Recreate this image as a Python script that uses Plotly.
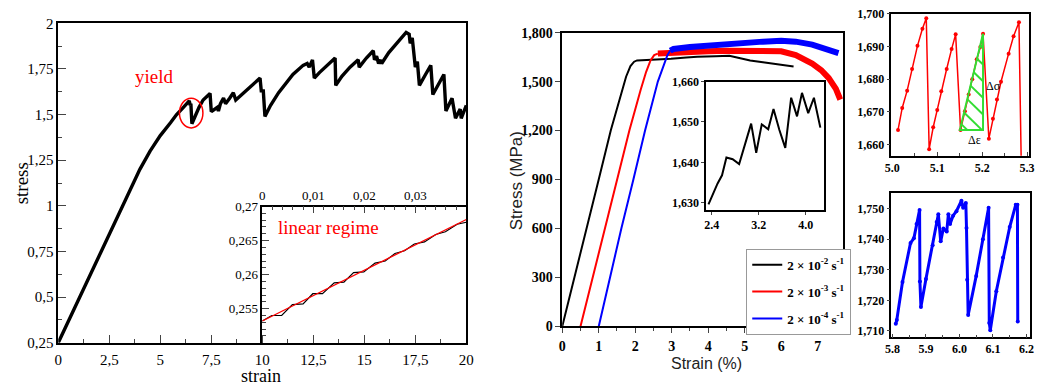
import plotly.graph_objects as go

W, H = 1046, 392

# ---------------- Left panel data (simulation) ----------------
sim_strain = [0, 1, 2, 3, 4, 4.5, 5, 5.5, 5.8, 6.1, 6.3, 6.42, 6.47, 6.5, 6.55, 6.7, 6.9, 7.1, 7.3, 7.44,
              7.5, 7.65, 7.8, 7.85, 7.95, 8.1, 8.2, 8.4, 8.58, 8.7, 9.0, 9.2, 9.4, 9.6, 9.89, 9.95, 10.05,
              10.13, 10.4, 10.8, 11.2, 11.5, 11.8, 12.0, 12.2, 12.3, 12.46, 12.55, 12.8, 13.2, 13.57, 13.6,
              13.9, 14.3, 14.7, 14.75, 15.1, 15.44, 15.5, 15.6, 15.7, 15.8, 15.85, 16.2, 16.6, 17.05, 17.2,
              17.25, 17.35, 17.5, 17.6, 17.7, 18.0, 18.26, 18.36, 18.6, 18.9, 19.0, 19.3, 19.47, 19.7, 19.75, 20.0]
sim_stress = [0.25, 0.49, 0.73, 0.97, 1.2, 1.3, 1.385, 1.455, 1.5, 1.535, 1.56, 1.575, 1.55, 1.56, 1.45, 1.49,
              1.54, 1.58, 1.6, 1.616, 1.516, 1.53, 1.54, 1.52, 1.56, 1.59, 1.56, 1.59, 1.62, 1.58, 1.61, 1.63,
              1.65, 1.67, 1.70, 1.63, 1.63, 1.49, 1.55, 1.62, 1.68, 1.72, 1.75, 1.77, 1.78, 1.76, 1.80, 1.70,
              1.73, 1.77, 1.81, 1.66, 1.71, 1.76, 1.80, 1.76, 1.81, 1.85, 1.80, 1.82, 1.78, 1.80, 1.78, 1.84,
              1.89, 1.95, 1.94, 1.89, 1.92, 1.76, 1.79, 1.66, 1.72, 1.77, 1.61, 1.66, 1.72, 1.52, 1.59, 1.48,
              1.53, 1.48, 1.55]

# inset (linear regime)
lin_strain = [0, 0.00186, 0.0038, 0.0059, 0.008, 0.0099, 0.0118, 0.0141, 0.016, 0.0179, 0.0199, 0.0221,
              0.0241, 0.026, 0.0279, 0.0298, 0.0318, 0.034, 0.0359, 0.0382, 0.04]
lin_stress = [0.2532, 0.254, 0.254, 0.2556, 0.2557, 0.2572, 0.2572, 0.2588, 0.2589, 0.2603, 0.2604, 0.2617,
              0.262, 0.2631, 0.2635, 0.2645, 0.2648, 0.2659, 0.2663, 0.2674, 0.2677]
fit_strain = [0, 0.04]
fit_stress = [0.2532, 0.2681]

left_x_ticks = [0, 2.5, 5, 7.5, 10, 12.5, 15, 17.5, 20]
left_x_text = ["0", "2,5", "5", "7,5", "10", "12,5", "15", "17,5", "20"]
left_y_ticks = [0.25, 0.5, 0.75, 1, 1.25, 1.5, 1.75, 2]
left_y_text = ["0,25", "0,5", "0,75", "1", "1,25", "1,5", "1,75", "2"]
inset_x_ticks = [0, 0.01, 0.02, 0.03]
inset_x_text = ["0", "0,01", "0,02", "0,03"]
inset_y_ticks = [0.255, 0.26, 0.265, 0.27]
inset_y_text = ["0,255", "0,26", "0,265", "0,27"]

# ---------------- Middle panel data (experiment) ----------------
black_strain = [0, 0.34, 0.67, 1.0, 1.33, 1.6, 1.75, 1.87, 1.97, 2.05, 2.5, 2.98, 3.4, 3.7, 4.2, 4.58, 4.85,
                5.15, 5.5, 5.86, 6.1, 6.34]
black_stress = [0, 300, 600, 900, 1200, 1420, 1530, 1595, 1622, 1630, 1634, 1640, 1648, 1653, 1656, 1659, 1645,
                1630, 1618, 1606, 1598, 1592]
red_strain = [0.5, 0.84, 1.17, 1.5, 1.84, 2.15, 2.3, 2.42, 2.52, 2.62, 3.0, 3.5, 4.0, 4.5, 5.0, 5.5, 6.0,
              6.4, 6.85, 7.1, 7.3, 7.5, 7.62]
red_stress = [0, 300, 600, 900, 1200, 1450, 1560, 1630, 1662, 1672, 1678, 1683, 1686, 1689, 1690, 1690, 1686,
              1662, 1610, 1570, 1523, 1455, 1390]
blue_strain = [1.0, 1.3, 1.62, 1.95, 2.27, 2.62, 2.78, 2.88, 2.96, 3.05, 3.5, 4.0, 4.5, 5.0, 5.5, 6.0, 6.4,
               6.85, 7.2, 7.57]
blue_stress = [0, 300, 600, 900, 1200, 1500, 1600, 1660, 1690, 1700, 1712, 1722, 1730, 1738, 1745, 1750, 1745,
               1727, 1705, 1675]
red_knee, blue_knee = 9, 8

zoom_strain = [2.345, 2.50, 2.575, 2.65, 2.756, 2.866, 3.07, 3.156, 3.25, 3.36, 3.45, 3.55, 3.65, 3.75, 3.85,
               3.934, 4.04, 4.137, 4.246]
zoom_stress = [1629.6, 1634.8, 1636.8, 1641.2, 1640.8, 1639.6, 1649.6, 1642.4, 1649.4, 1648.2, 1653.2, 1648,
               1643.6, 1656, 1651.4, 1657.2, 1652.2, 1656, 1648.6]

legend_names = ["2 × 10<sup>-2</sup> s<sup>-1</sup>", "2 × 10<sup>-3</sup> s<sup>-1</sup>",
                "2 × 10<sup>-4</sup> s<sup>-1</sup>"]

# ---------------- Right panels ----------------
saw_red_strain = [5.0127, 5.022, 5.033, 5.044, 5.056, 5.067, 5.0756, 5.082, 5.091, 5.1, 5.109, 5.121, 5.132,
                  5.141, 5.152, 5.1616, 5.17, 5.178, 5.188, 5.196, 5.202, 5.215, 5.224, 5.233, 5.242, 5.259,
                  5.27, 5.282, 5.287]
saw_red_stress = [1664.5, 1671.2, 1676.5, 1683.1, 1690.2, 1695.4, 1698.6, 1658.6, 1665.3, 1670.6, 1676.3,
                  1683.1, 1689.2, 1693.7, 1664.5, 1670.2, 1675.3, 1680, 1686.1, 1689.8, 1693.9, 1661.8, 1667.9,
                  1673.8, 1679.2, 1687.8, 1693.1, 1697.4, 1655]
tri_strain = [5.1504, 5.202, 5.202]
tri_stress = [1664.5, 1664.5, 1693.9]

saw_blue_strain = [5.810, 5.813, 5.83, 5.854, 5.864, 5.872, 5.881, 5.882, 5.885, 5.90, 5.92, 5.932, 5.937,
                   5.944, 5.952, 5.962, 5.967, 5.972, 5.981, 5.991, 6.006, 6.011, 6.019, 6.021, 6.023, 6.026,
                   6.05, 6.07, 6.087, 6.089, 6.092, 6.11, 6.13, 6.15, 6.168, 6.173, 6.174]
saw_blue_stress = [1712.3, 1713.6, 1726, 1738.8, 1740.3, 1745, 1749.6, 1726.2, 1717.8, 1727, 1738, 1745.6,
                   1748.2, 1739.3, 1743.5, 1742.5, 1748.2, 1745, 1747.7, 1749.2, 1752.6, 1750.3, 1751.9,
                   1743.7, 1726.7, 1715.2, 1728, 1740, 1750.3, 1712.6, 1710.2, 1723, 1734, 1744, 1751.3,
                   1751.3, 1713.1]


def dom_x(p0, p1):
    return [p0 / W, p1 / W]


def dom_y(top, bottom):
    return [1 - bottom / H, 1 - top / H]


SERIF = "Liberation Serif"
fig = go.Figure()

# left main
fig.add_trace(go.Scatter(x=sim_strain, y=sim_stress, mode="lines", line=dict(color="black", width=3.4),
                         xaxis="x", yaxis="y", showlegend=False))
# left inset
fig.add_trace(go.Scatter(x=lin_strain, y=lin_stress, mode="lines", line=dict(color="black", width=1.2),
                         xaxis="x2", yaxis="y2", showlegend=False))
fig.add_trace(go.Scatter(x=fit_strain, y=fit_stress, mode="lines", line=dict(color="red", width=1.3),
                         xaxis="x2", yaxis="y2", showlegend=False))

# middle
fig.add_trace(go.Scatter(x=black_strain, y=black_stress, mode="lines", line=dict(color="black", width=2),
                         xaxis="x3", yaxis="y3", name=legend_names[0], legendgroup="a"))
fig.add_trace(go.Scatter(x=red_strain[:red_knee + 1], y=red_stress[:red_knee + 1], mode="lines",
                         line=dict(color="red", width=2), xaxis="x3", yaxis="y3", name=legend_names[1],
                         legendgroup="b"))
fig.add_trace(go.Scatter(x=red_strain[red_knee:], y=red_stress[red_knee:], mode="lines",
                         line=dict(color="red", width=6), xaxis="x3", yaxis="y3", showlegend=False,
                         legendgroup="b"))
fig.add_trace(go.Scatter(x=blue_strain[:blue_knee + 1], y=blue_stress[:blue_knee + 1], mode="lines",
                         line=dict(color="blue", width=2), xaxis="x3", yaxis="y3", name=legend_names[2],
                         legendgroup="c"))
fig.add_trace(go.Scatter(x=blue_strain[blue_knee:], y=blue_stress[blue_knee:], mode="lines",
                         line=dict(color="blue", width=6), xaxis="x3", yaxis="y3", showlegend=False,
                         legendgroup="c"))
# middle inset
fig.add_trace(go.Scatter(x=zoom_strain, y=zoom_stress, mode="lines", line=dict(color="black", width=2),
                         xaxis="x4", yaxis="y4", showlegend=False))
# right top
fig.add_trace(go.Scatter(x=saw_red_strain, y=saw_red_stress, mode="lines+markers",
                         line=dict(color="red", width=1.5), marker=dict(color="red", size=4),
                         xaxis="x5", yaxis="y5", showlegend=False))
# right bottom
fig.add_trace(go.Scatter(x=saw_blue_strain, y=saw_blue_stress, mode="lines+markers",
                         line=dict(color="blue", width=3), marker=dict(color="blue", size=4),
                         xaxis="x6", yaxis="y6", showlegend=False))

base = dict(showgrid=False, zeroline=False, showline=True, linecolor="black")
serif15 = dict(family=SERIF, size=15, color="black")
serif13 = dict(family=SERIF, size=13, color="black")
bold14 = dict(family=SERIF, size=14, color="black", weight="bold")
bold12 = dict(family=SERIF, size=12, color="black", weight="bold")

fig.update_layout(
    width=W, height=H, margin=dict(l=0, r=0, t=0, b=0),
    paper_bgcolor="white", plot_bgcolor="rgba(0,0,0,0)",
    xaxis=dict(**base, domain=dom_x(52, 466), range=[0, 20], anchor="y", linewidth=1.5, mirror=True,
               tickmode="array", tickvals=left_x_ticks, ticktext=left_x_text, ticks="inside", ticklen=8,
               tickfont=serif15, ticklabelstandoff=2,
               minor=dict(tickmode="linear", tick0=0, dtick=1.25, ticks="inside", ticklen=4)),
    yaxis=dict(**base, domain=dom_y(16, 349), range=[0.25, 2], anchor="x", linewidth=1.5, mirror=True,
               tickmode="array", tickvals=left_y_ticks, ticktext=left_y_text, ticks="inside", ticklen=8,
               tickfont=serif15, minor=dict(tickmode="linear", tick0=0, dtick=0.125, ticks="inside", ticklen=4)),
    xaxis2=dict(**base, domain=dom_x(259, 466), range=[0, 0.04], anchor="y2", side="top", linewidth=1.5,
                tickmode="array", tickvals=inset_x_ticks, ticktext=inset_x_text, ticks="inside", ticklen=7,
                tickfont=serif13, minor=dict(tickmode="linear", tick0=0, dtick=0.002, ticks="inside", ticklen=4)),
    yaxis2=dict(**base, domain=dom_y(207, 349), range=[0.25, 0.27], anchor="x2", linewidth=1.5,
                tickmode="array", tickvals=inset_y_ticks, ticktext=inset_y_text, ticks="inside", ticklen=7,
                tickfont=serif13, minor=dict(tickmode="linear", tick0=0.25, dtick=0.001, ticks="inside", ticklen=4)),
    xaxis3=dict(**base, domain=dom_x(563.3, 848), range=[0, 7.69], anchor="y3", linewidth=1.5, mirror=True,
                dtick=1, tick0=0, ticks="outside", ticklen=5, tickfont=bold14, ticklabelstandoff=1,
                minor=dict(dtick=0.5, ticks="outside", ticklen=3)),
    yaxis3=dict(**base, domain=dom_y(25.7, 332), range=[0, 1800], anchor="x3", linewidth=1.5, mirror=True,
                dtick=300, tick0=0, tickformat=",d", ticks="outside", ticklen=5, tickfont=bold14),
    xaxis4=dict(**base, domain=dom_x(709.3, 829), range=[2.305, 4.31], anchor="y4", linewidth=1.5, mirror=True,
                tickmode="array", tickvals=[2.4, 3.2, 4.0], tickformat=".1f", ticks="outside", ticklen=3,
                tickfont=bold12),
    yaxis4=dict(**base, domain=dom_y(76.7, 210.7), range=[1628.2, 1660], anchor="x4", linewidth=1.5,
                mirror=True, dtick=10, tick0=1630, tickformat=",d", ticks="outside", ticklen=3, tickfont=bold12),
    xaxis5=dict(**base, domain=dom_x(897.3, 1036.7), range=[4.998, 5.304], anchor="y5", linewidth=1.5,
                mirror=True, dtick=0.1, tick0=5.0, tickformat=".1f", ticks="inside", ticklen=4, tickfont=bold12,
                minor=dict(dtick=0.05, ticks="inside", ticklen=3)),
    yaxis5=dict(**base, domain=dom_y(6, 154), range=[1656.6, 1700], anchor="x5", linewidth=1.5, mirror=True,
                dtick=10, tick0=1660, tickformat=",d", ticks="outside", ticklen=3, tickfont=bold12),
    xaxis6=dict(**base, domain=dom_x(897.3, 1037.7), range=[5.797, 6.21], anchor="y6", linewidth=1.5,
                mirror=True, dtick=0.1, tick0=5.8, tickformat=".1f", ticks="inside", ticklen=4, tickfont=bold12,
                minor=dict(dtick=0.05, ticks="inside", ticklen=3)),
    yaxis6=dict(**base, domain=dom_y(193.3, 343.3), range=[1707.9, 1755], anchor="x6", linewidth=1.5,
                mirror=True, dtick=10, tick0=1710, tickformat=",d", ticks="outside", ticklen=3, tickfont=bold12),
    legend=dict(x=750 / W, y=1 - 251 / H, xanchor="left", yanchor="top", bgcolor="white",
                bordercolor="#999999", borderwidth=1,
                font=dict(family=SERIF, size=13, color="black", weight="bold"),
                tracegroupgap=7, itemwidth=30),
)

annotations = [
    dict(text="yield", x=4.69, y=1.711, xref="x", yref="y", showarrow=False,
         font=dict(family=SERIF, size=19, color="red")),
    dict(text="linear regime", x=0.0026, y=0.2669, xref="x2", yref="y2", xanchor="left", showarrow=False,
         font=dict(family=SERIF, size=19, color="red")),
    dict(text="stress", x=15 / W, y=1 - 183 / H, xref="paper", yref="paper", textangle=-90, showarrow=False,
         xanchor="center", yanchor="middle", font=dict(family=SERIF, size=19, color="black")),
    dict(text="strain", x=258 / W, y=1 - 384 / H, xref="paper", yref="paper", showarrow=False,
         xanchor="center", yanchor="middle", font=dict(family=SERIF, size=18, color="black")),
    dict(text="Stress (MPa)", x=517 / W, y=1 - 180 / H, xref="paper", yref="paper", textangle=-90,
         xanchor="center", yanchor="middle", showarrow=False,
         font=dict(family="Liberation Sans", size=17, color="#222222")),
    dict(text="Strain (%)", x=710 / W, y=1 - 371 / H, xref="paper", yref="paper", showarrow=False,
         xanchor="center", yanchor="middle", font=dict(family="Liberation Sans", size=16, color="#222222")),
    dict(text="Δσ", x=5.205, y=1678, xref="x5", yref="y5", xanchor="left", showarrow=False,
         font=dict(family=SERIF, size=12, color="black")),
    dict(text="Δε", x=5.182, y=1661.5, xref="x5", yref="y5", showarrow=False,
         font=dict(family=SERIF, size=12, color="black")),
]
fig.update_layout(annotations=annotations)

shapes = [
    dict(type="circle", xref="x", yref="y", x0=5.94, x1=7.09, y0=1.427, y1=1.590,
         line=dict(color="red", width=1.5)),
    dict(type="path", xref="x5", yref="y5",
         path=f"M {tri_strain[0]} {tri_stress[0]} L {tri_strain[1]} {tri_stress[1]} "
              f"L {tri_strain[2]} {tri_stress[2]} Z",
         line=dict(color="#33dd33", width=2)),
]
# hatch lines inside the triangle (45 degrees on screen)
px_per_x = (1036.7 - 897.3) / (5.304 - 4.998)
px_per_y = (154 - 6) / (1700 - 1656.6)
ax, ay = tri_strain[0], tri_stress[0]
cx, cy = tri_strain[2], tri_stress[2]
for t in [0.88, 0.74, 0.6, 0.46, 0.32, 0.18, 0.06]:
    x0 = ax + t * (cx - ax)
    y0 = ay + t * (cy - ay)
    dxp = (cx - x0) * px_per_x
    drop = dxp / px_per_y
    if y0 - drop >= ay:
        x1, y1 = cx, y0 - drop
    else:
        d = (y0 - ay) * px_per_y
        x1, y1 = x0 + d / px_per_x, ay
    shapes.append(dict(type="line", xref="x5", yref="y5", x0=x0, y0=y0, x1=x1, y1=y1,
                       line=dict(color="#33dd33", width=2)))
fig.update_layout(shapes=shapes)

fig.write_html("out.html")
